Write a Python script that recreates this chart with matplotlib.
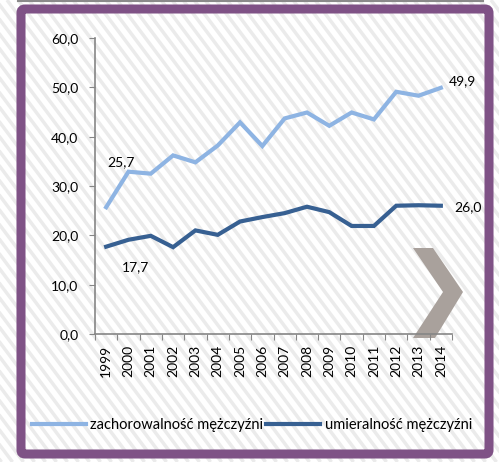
import numpy as np
import matplotlib.pyplot as plt
from matplotlib.patches import FancyBboxPatch, Polygon

plt.rcParams['font.family'] = ['Lato', 'DejaVu Sans']

# data
years = [str(y) for y in range(1999, 2015)]
zachorowalnosc = [25.7, 32.9, 32.5, 36.2, 34.8, 38.2, 42.9, 38.1, 43.7, 44.9,
                  42.2, 44.9, 43.5, 49.1, 48.3, 49.9]
umieralnosc = [17.7, 19.1, 19.9, 17.6, 21.0, 20.1, 22.8, 23.7, 24.5, 25.8,
               24.7, 21.9, 21.9, 26.0, 26.1, 26.0]
label_zach = 'zachorowalność mężczyźni'
label_umier = 'umieralność mężczyźni'
y_ticks = [0, 10, 20, 30, 40, 50, 60]

W, H = 499, 462
fig = plt.figure(figsize=(W / 100, H / 100), dpi=100)

# background: stripes, purple frame, chevron (pixel coords)
bg = fig.add_axes([0, 0, 1, 1], zorder=0)
bg.set_xlim(0, W)
bg.set_ylim(H, 0)
bg.axis('off')
for x0 in np.arange(-400, W + 20, 11):
    bg.plot([x0, x0 + 0.75 * H], [0, H], color='#ebebeb', lw=2.5,
            solid_capstyle='butt', zorder=0)
bg.plot([18, 483], [1, 1], color='#8a8a8a', lw=1.5, zorder=3)
frame = FancyBboxPatch((21, 9), 468, 445, boxstyle='round,pad=0,rounding_size=4',
                       facecolor='none', edgecolor='#7f5286', linewidth=6.5,
                       zorder=3)
bg.add_patch(frame)
chevron = Polygon([(413, 248), (433, 248), (463, 292), (435, 338), (413, 338),
                   (443, 292)], closed=True, facecolor='#a9a19c', edgecolor='none',
                  zorder=3)
bg.add_patch(chevron)

# main chart
ax = fig.add_axes([95 / W, 1 - 334 / H, (452 - 95) / W, (334 - 38) / H], zorder=1)
ax.patch.set_alpha(0)
x = np.arange(len(years))
ax.plot(x, zachorowalnosc, color='#8eb4e3', lw=3, label=label_zach,
        solid_joinstyle='miter')
ax.plot(x, umieralnosc, color='#376092', lw=3, label=label_umier,
        solid_joinstyle='miter')

ax.set_xlim(-0.5, len(years) - 0.5)
ax.set_ylim(0, 60)
ax.set_yticks(y_ticks)
ax.set_yticklabels([f'{v:.1f}'.replace('.', ',') for v in y_ticks])
ax.set_xticks(np.arange(-0.5, len(years), 1))
ax.set_xticklabels([])
ax.set_xticks(x, minor=True)
ax.set_xticklabels(years, minor=True, rotation=90)
ax.tick_params(axis='x', which='minor', length=0, pad=8, labelsize=10)
ax.tick_params(axis='x', which='major', length=4, color='#868686', direction='out')
ax.tick_params(axis='y', length=4, color='#868686', pad=8, labelsize=10)
for s in ['top', 'right']:
    ax.spines[s].set_visible(False)
for s in ['left', 'bottom']:
    ax.spines[s].set_color('#868686')
    ax.spines[s].set_linewidth(1.2)

# data labels
def lab(i, vals, dx, dy):
    ax.annotate(f'{vals[i]:.1f}'.replace('.', ','), (x[i], vals[i]),
                xytext=(dx, dy), textcoords='offset pixels',
                ha='center', va='center', fontsize=10)

lab(0, zachorowalnosc, 15, 45)
lab(-1, zachorowalnosc, 22, 7)
lab(0, umieralnosc, 29, -20)
lab(-1, umieralnosc, 27, -1)

fig.legend(loc='center', bbox_to_anchor=(252 / W, 1 - 425 / H), ncol=2,
           frameon=False, fontsize=10.5, handlelength=3.7, handletextpad=0.3,
           columnspacing=0.2)

fig.savefig('out.png', dpi=100)
